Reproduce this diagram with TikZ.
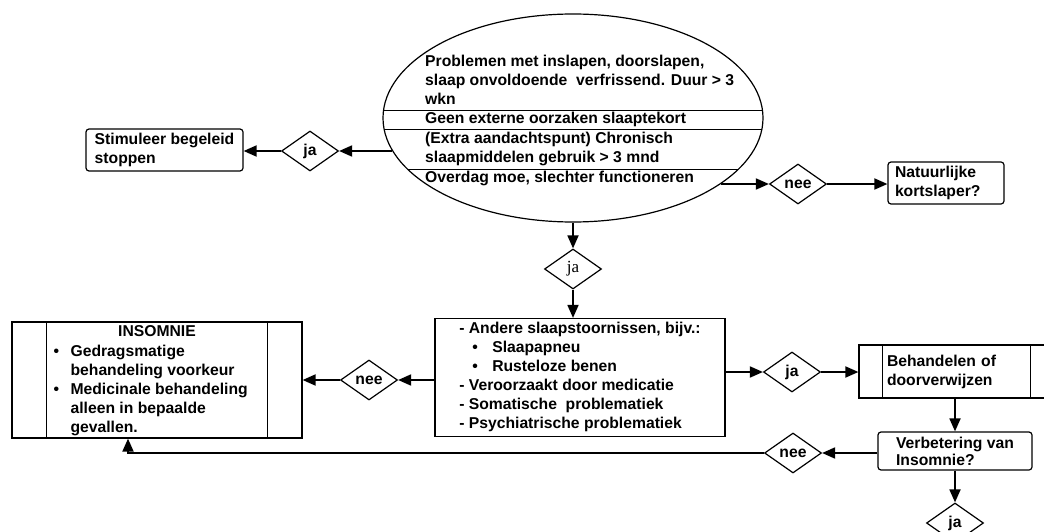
\documentclass[tikz,border=0pt]{standalone}
\usepackage{fontspec}
\setmainfont{Liberation Sans}
\newfontfamily\serifja{Liberation Serif}
\usetikzlibrary{shapes.geometric, arrows.meta, positioning}
\newcommand{\flowfont}{\fontsize{15.7}{19}\selectfont\bfseries}
\newcommand{\blt}{\makebox[17pt][l]{\textbullet}}
\newcommand{\sblt}{\hspace*{13pt}\makebox[20pt][l]{\textbullet}}

\begin{document}
\begin{tikzpicture}[
  x=1pt, y=-1pt,
  font=\flowfont,
  decision/.style={draw, diamond, line width=1.2pt, minimum width=57pt, minimum height=40pt, inner sep=0pt},
  rbox/.style={draw, rounded corners=3pt, line width=1.2pt, inner sep=2pt, align=left},
  pbox/.style={draw, line width=1.2pt, inner sep=2pt, align=left},
  cond/.style={inner sep=0pt, anchor=north west, align=left},
  arr/.style={-{Triangle[length=13pt,width=11pt]}, line width=1.8pt}
  ]
  \useasboundingbox (0,0) rectangle (1044,532);

  % Nodes
  \node (ell) [draw, ellipse, line width=1.2pt, minimum width=380pt, minimum height=208pt, inner sep=0pt] at (573,118) {};
  \node (sec1) [cond] at (425,52.7) {\strut Problemen met inslapen, doorslapen,\\slaap onvoldoende\ \ verfrissend. Duur > 3\\wkn\strut};
  \node (sec2) [cond, below=0pt of sec1.south west, anchor=north west] {\strut Geen externe oorzaken slaaptekort};
  \node (sec3) [cond, below=0pt of sec2.south west, anchor=north west] {\strut(Extra aandachtspunt) Chronisch\\slaapmiddelen gebruik > 3 mnd\strut};
  \node (sec4) [cond, below=1.5pt of sec3.south west, anchor=north west] {\strut Overdag moe, slechter functioneren};

  \node (dj) [decision] at (310,151) {ja};
  \node (stim) [rbox, minimum width=157pt, minimum height=42pt] at (164.5,150) {Stimuleer begeleid\\stoppen};
  \node (dn) [decision] at (798,184) {nee};
  \node (natu) [rbox, minimum width=116pt, minimum height=42pt, text width=102pt] at (946,183) {Natuurlijke\\kortslaper?};

  \node (dm) [decision, font=\serifja\fontsize{17}{19}\selectfont] at (573,269) {ja};
  \node (andere) [pbox, minimum width=290pt, minimum height=117pt] at (580,377.5) {\strut- Andere slaapstoornissen, bijv.:\\\sblt Slaapapneu\\\sblt Rusteloze benen\\- Veroorzaakt door medicatie\\- Somatische\ \ problematiek\\- Psychiatrische problematiek\strut};

  \node (dn2) [decision] at (369,380) {nee};
  \node (insom) [pbox, minimum width=290pt, minimum height=116pt] at (157,380) {};
  \node (insomtit) [anchor=base, inner sep=0pt] at ([yshift=-15pt]insom.north) {INSOMNIE};
  \node (insomtxt) [cond] at ([xshift=42pt, yshift=-21.7pt]insom.north west) {\strut\blt Gedragsmatige\\\hspace*{17pt}behandeling voorkeur\\\blt Medicinale behandeling\\\hspace*{17pt}alleen in bepaalde\\\hspace*{17pt}gevallen.};

  \node (dj2) [decision] at (792,372) {ja};
  \node (beh) [pbox, minimum width=195pt, minimum height=53pt, text width=139pt] at (956.5,371.5) {Behandelen of\\doorverwijzen};
  \node (verb) [rbox, minimum width=154pt, minimum height=38pt, font=\fontsize{15.7}{17}\selectfont\bfseries] at (955,451) {Verbetering van\\Insomnie?};
  \node (dn3) [decision] at (793,453) {nee};
  \node (dj4) [decision] at (955,523) {ja};

  % Separators and side bars
  \begin{scope}
    \clip (ell.center) ellipse [x radius=190, y radius=104];
    \foreach \row in {sec2, sec3, sec4}
      \draw[line width=1pt] (ell.west |- \row.north) -- (ell.east |- \row.north);
  \end{scope}
  \draw[line width=1.2pt] ([xshift=35pt]insom.north west) -- ([xshift=35pt]insom.south west)
    ([xshift=-35pt]insom.north east) -- ([xshift=-35pt]insom.south east);
  \draw[line width=1.2pt] ([xshift=24pt]beh.north west) -- ([xshift=24pt]beh.south west)
    ([xshift=-24pt]beh.north east) -- ([xshift=-24pt]beh.south east);

  % Connections
  \draw[arr] (ell.190 |- dj) -- (dj);
  \draw[arr] (dj) -- (dj -| stim.east);
  \draw[arr] (ell.336 |- dn) -- (dn);
  \draw[arr] (dn) -- (dn -| natu.west);
  \draw[arr] (ell) -- (dm);
  \draw[arr] (dm) -- (dm |- andere.north);
  \draw[arr] (andere.west |- dn2) -- (dn2);
  \draw[arr] (dn2) -- (dn2 -| insom.east);
  \draw[arr] (andere.east |- dj2) -- (dj2);
  \draw[arr] (dj2) -- (dj2 -| beh.west);
  \draw[arr] (beh.south -| verb) -- (verb);
  \draw[arr] (verb.west |- dn3) -- (dn3);
  \draw[arr] (dn3) -| ([xshift=-29pt]insom.south);
  \draw[arr] (verb) -- (dj4);

\end{tikzpicture}
\end{document}
